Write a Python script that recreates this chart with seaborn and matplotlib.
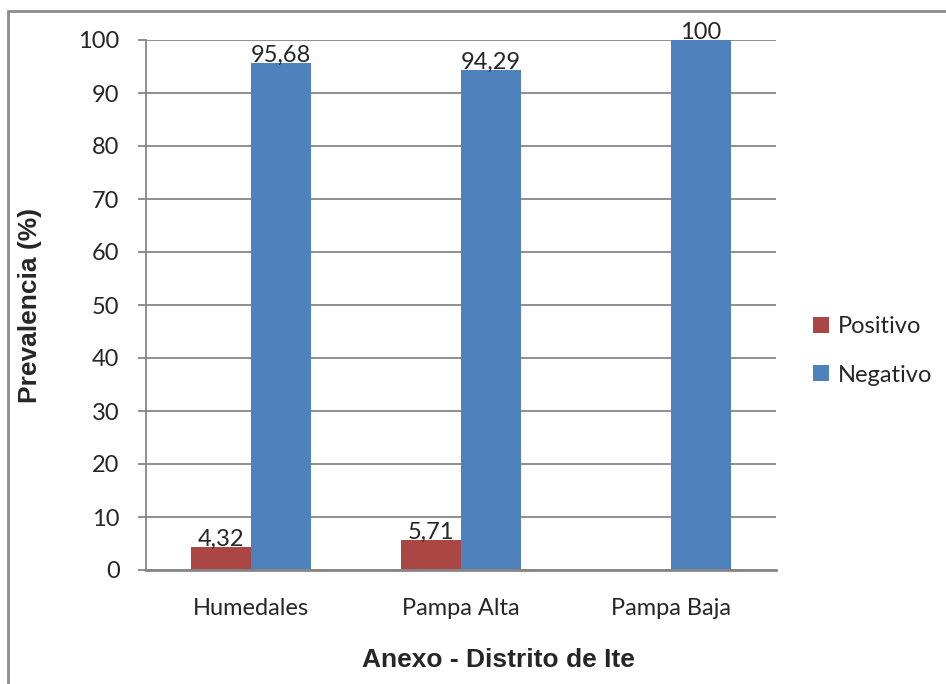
import matplotlib
matplotlib.use("Agg")
import matplotlib.pyplot as plt
from matplotlib.patches import Rectangle
import seaborn as sns
import pandas as pd

categorias = ["Humedales", "Pampa Alta", "Pampa Baja"]
positivo = [4.32, 5.71, 0.0]
negativo = [95.68, 94.29, 100.0]
series = ["Positivo", "Negativo"]
colores = ["#AA4644", "#4F81BD"]
yticks = list(range(0, 101, 10))

df = pd.DataFrame({
    "Anexo": categorias * 2,
    "Resultado": [series[0]] * 3 + [series[1]] * 3,
    "Prevalencia": positivo + negativo,
})

sns.set_theme(style="white")
plt.rcParams["font.family"] = ["Lato", "DejaVu Sans"]

fig = plt.figure(figsize=(9.46, 6.84), dpi=100)
ax = fig.add_axes([146 / 946, 1 - 570 / 684, 630 / 946, 530 / 684])

sns.barplot(data=df, x="Anexo", y="Prevalencia", hue="Resultado",
            hue_order=series, palette=colores, width=0.571,
            saturation=1, ax=ax, linewidth=0)

ax.set_xlim(-0.5, 2.5)
ax.set_ylim(0, 100)
ax.set_yticks(yticks)
ax.set_yticklabels([str(t) for t in yticks], fontsize=17)
ax.tick_params(axis="x", labelsize=17, length=0, pad=20)
ax.tick_params(axis="y", length=6, width=1.3, color="#868686", pad=13, left=True)
ax.yaxis.grid(True, color="#868686", linewidth=1.3)
ax.set_axisbelow(True)
for s in ["top", "right"]:
    ax.spines[s].set_visible(False)
ax.spines["left"].set_color("#868686")
ax.spines["left"].set_linewidth(1.3)
ax.spines["bottom"].set_color("#868686")
ax.spines["bottom"].set_linewidth(2)

ax.set_xlabel("Anexo - Distrito de Ite", fontsize=19, fontweight="bold",
              family="Liberation Sans")
ax.set_ylabel("Prevalencia (%)", fontsize=19, fontweight="bold",
              family="Liberation Sans")
ax.xaxis.set_label_coords(0.56, -0.148)
ax.yaxis.set_label_coords(-0.165, 0.5)

for cont in ax.containers:
    labels = [("" if v == 0 else f"{v:g}".replace(".", ",")) for v in cont.datavalues]
    ax.bar_label(cont, labels=labels, fontsize=17, padding=-2)

leg = ax.legend(loc="center left", bbox_to_anchor=(792 / 946, 1 - 351 / 684),
                bbox_transform=fig.transFigure, frameon=False, fontsize=17,
                handlelength=0.65, handleheight=0.65, handletextpad=0.4,
                labelspacing=1.15)

fig.patches.append(Rectangle((8 / 946, -0.1), 1.2, 1 - 11 / 684 + 0.1,
                             transform=fig.transFigure, fill=False,
                             edgecolor="#8C8C8C", linewidth=2, clip_on=False))

fig.savefig("out.png", dpi=100, facecolor="white")
